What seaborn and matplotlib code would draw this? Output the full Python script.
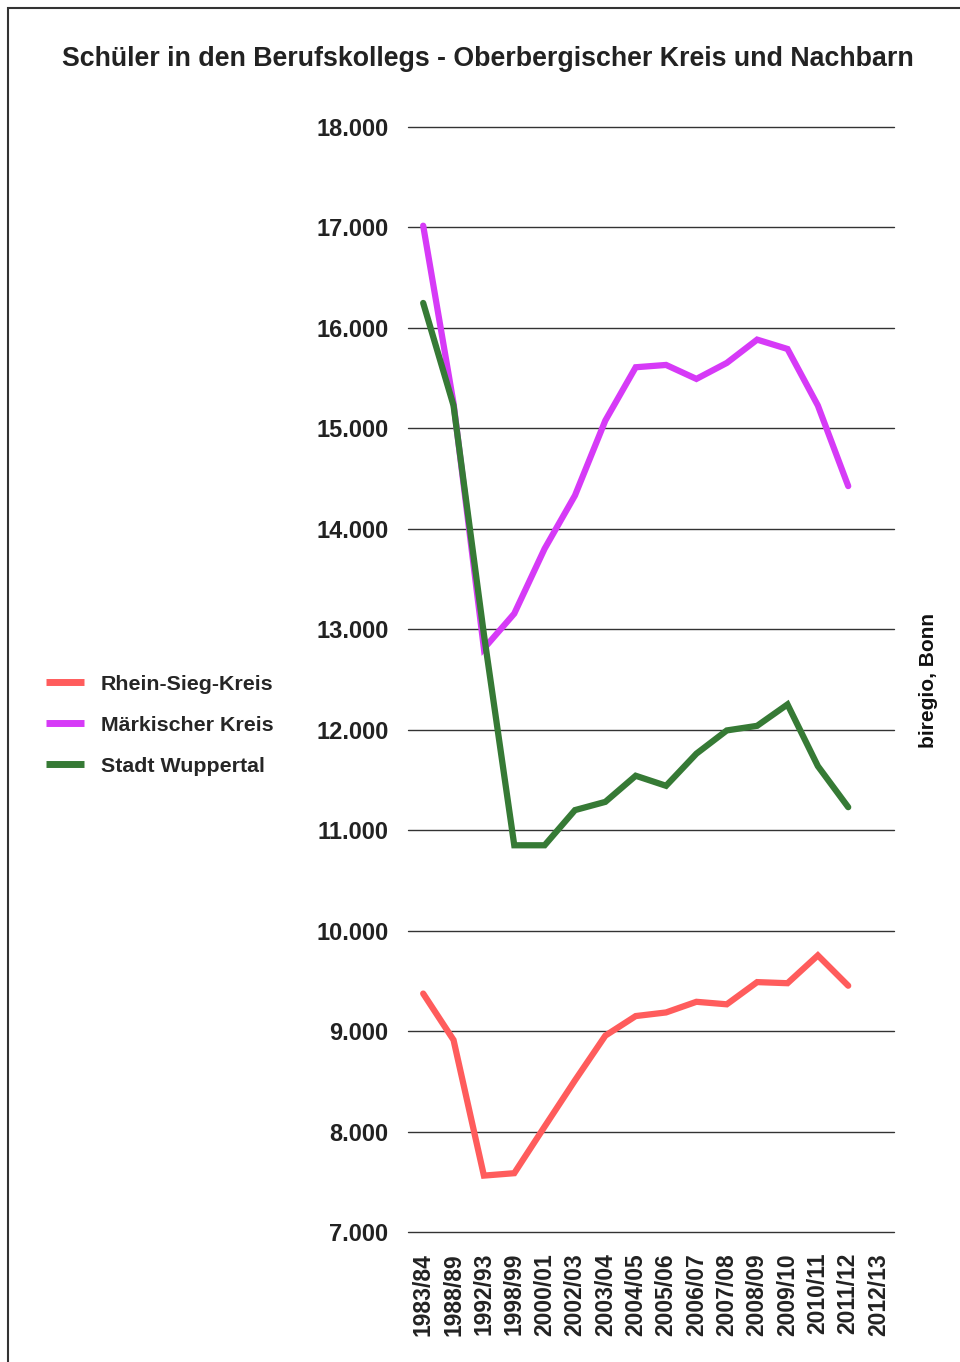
#line plot
#Schüler in den Berufskollegs
import numpy as np
import pandas as pd
import seaborn as sns
import matplotlib.pyplot as plt
from matplotlib.patches import Rectangle

years = ["1983/84", "1988/89", "1992/93", "1998/99", "2000/01", "2002/03", "2003/04",
         "2004/05", "2005/06", "2006/07", "2007/08", "2008/09", "2009/10", "2010/11",
         "2011/12", "2012/13"]
rhein_sieg = [9374, 8912, 7562, 7586, 8050, 8510, 8955, 9150, 9186, 9292, 9267, 9488,
              9477, 9754, 9452, np.nan]
maerkisch = [17017, 15250, 12808, 13156, 13802, 14332, 15078, 15608, 15631, 15492,
             15651, 15883, 15790, 15227, 14425, np.nan]
wuppertal = [16248, 15227, 12950, 10850, 10850, 11200, 11282, 11542, 11442, 11762,
             11993, 12039, 12252, 11638, 11229, np.nan]
series = ["Rhein-Sieg-Kreis", "Märkischer Kreis", "Stadt Wuppertal"]
colors = ["#ff5c5c", "#d63af7", "#367a35"]

df = pd.DataFrame({"pos": np.arange(len(years)),
                   series[0]: rhein_sieg, series[1]: maerkisch, series[2]: wuppertal})
long = df.melt(id_vars="pos", var_name="Kreis", value_name="Schueler").dropna()

sns.set_style("white")
plt.rcParams["font.family"] = ["Liberation Sans", "DejaVu Sans"]
plt.rcParams["font.weight"] = "bold"

fig = plt.figure(figsize=(9.6, 13.62), dpi=100)
ax = fig.add_axes([0.425, 0.0954, 0.506, 0.8114])

sns.lineplot(data=long, x="pos", y="Schueler", hue="Kreis", hue_order=series,
             palette=colors, linewidth=4.5, solid_capstyle="round",
             solid_joinstyle="miter", ax=ax, legend=True, zorder=3)

ax.set_xlim(-0.5, len(years) - 0.5)
ax.set_ylim(7000, 18000)
yt = np.arange(7000, 18001, 1000)
ax.set_yticks(yt)
ax.set_yticklabels([f"{v:,}".replace(",", ".") for v in yt], fontsize=17,
                   fontweight="bold", color="#222222")
ax.set_xticks(np.arange(len(years)))
ax.set_xticklabels(years, rotation=90, fontsize=16.5, fontweight="bold", color="#222222")
ax.tick_params(axis="y", length=0, pad=14)
ax.tick_params(axis="x", length=0, pad=15)
ax.yaxis.grid(True, color="#333333", linewidth=1)
ax.xaxis.grid(False)
for gl in ax.get_ygridlines():
    gl.set_clip_on(False)
for s in ax.spines.values():
    s.set_visible(False)
ax.set_xlabel("")
ax.set_ylabel("")

handles, labels = ax.get_legend_handles_labels()
leg = ax.legend(handles, labels, loc="center left", bbox_to_anchor=(0.048, 0.4675),
                bbox_transform=fig.transFigure, frameon=False,
                handlelength=1.75, handletextpad=0.8, labelspacing=1.02,
                borderpad=0, borderaxespad=0,
                prop={"weight": "bold", "size": 15.4})
for h in leg.get_lines():
    h.set_solid_capstyle("butt")
    h.set_linewidth(5)

fig.text(0.508, 0.957, "Schüler in den Berufskollegs - Oberbergischer Kreis und Nachbarn",
         ha="center", va="center", fontsize=19.3, fontweight="bold", color="#222222")
fig.text(0.967, 0.5, "biregio, Bonn", rotation=90, ha="center", va="center",
         fontsize=15, fontweight="bold", color="#111111")

fig.patches.append(Rectangle((8 / 960, -0.1), 1.2, 1 - 8 / 1362 + 0.1,
                             transform=fig.transFigure, fill=False,
                             edgecolor="#333333", linewidth=1.5))

fig.savefig("out.png", dpi=100)
